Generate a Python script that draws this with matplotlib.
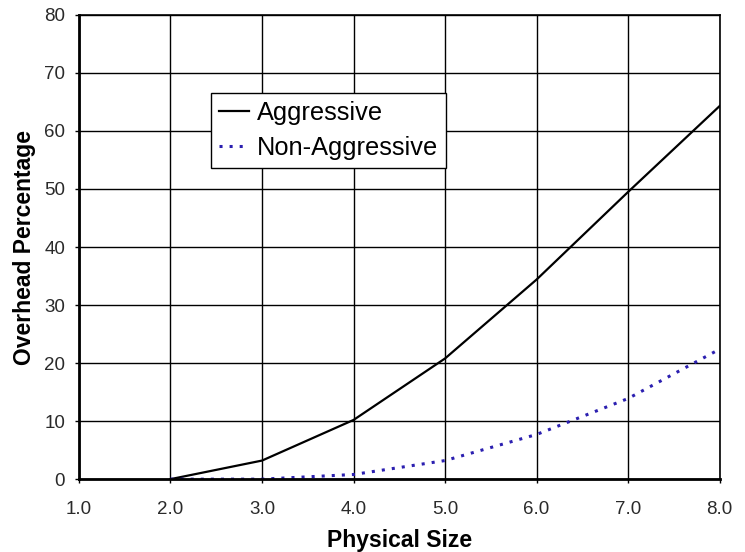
import matplotlib
matplotlib.use("Agg")
import matplotlib.pyplot as plt

# values
physical_size = [2.0, 3.0, 4.0, 5.0, 6.0, 7.0, 8.0]
aggressive = [0.0, 3.2, 10.2, 20.8, 34.4, 49.5, 64.3]
non_aggressive = [0.0, 0.0, 0.8, 3.2, 7.7, 13.9, 22.4]
x_ticks = [1.0, 2.0, 3.0, 4.0, 5.0, 6.0, 7.0, 8.0]
y_ticks = [0, 10, 20, 30, 40, 50, 60, 70, 80]

plt.rcParams["font.family"] = ["Liberation Sans", "DejaVu Sans"]

fig = plt.figure(figsize=(7.45, 5.52), dpi=100)
ax = fig.add_axes([0.106, 0.132, 0.860, 0.841])

ax.plot(physical_size, aggressive, color="black", lw=1.6, label="Aggressive")
ax.plot(physical_size, non_aggressive, color="#2b1fb0", lw=2.2,
        linestyle=(0, (1, 2.3)), label="Non-Aggressive")

ax.set_xlim(1.0, 8.0)
ax.set_ylim(0, 80)
ax.set_xticks(x_ticks)
ax.set_xticklabels([f"{v:.1f}" for v in x_ticks])
ax.set_yticks(y_ticks)
ax.tick_params(labelsize=13.5, length=3, width=1, color="black",
               labelcolor="#2a2a2a")
ax.tick_params(axis="x", pad=13)
ax.tick_params(axis="y", pad=7)
ax.grid(True, color="black", lw=1.0)
ax.set_axisbelow(True)
for side in ("left", "bottom"):
    ax.spines[side].set_linewidth(2.0)
for side in ("top", "right"):
    ax.spines[side].set_linewidth(1.2)

ax.set_xlabel("Physical Size", fontsize=16.5, fontweight="bold", labelpad=7.5)
ax.set_ylabel("Overhead Percentage", fontsize=16.5, fontweight="bold", labelpad=6)

leg = ax.legend(loc="upper left", bbox_to_anchor=(0.206, 0.832), fontsize=18.3,
                frameon=True, fancybox=False, handlelength=1.2,
                handletextpad=0.3, borderpad=0.3, labelspacing=0.45,
                borderaxespad=0)
leg.get_frame().set_edgecolor("black")
leg.get_frame().set_linewidth(1.0)
leg.get_frame().set_alpha(1.0)

fig.savefig("out.png", dpi=100)
